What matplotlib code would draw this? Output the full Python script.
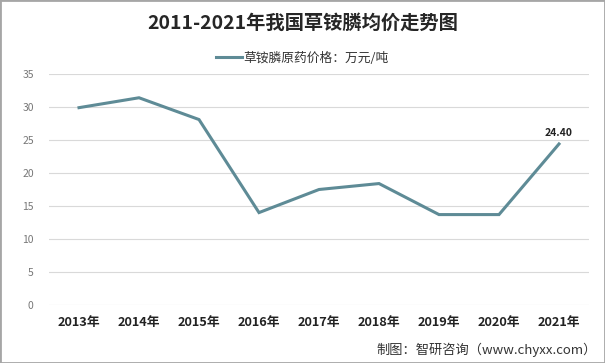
import matplotlib.pyplot as plt
from matplotlib.patches import Rectangle

plt.rcParams['font.family'] = ['Noto Sans CJK SC', 'DejaVu Sans']

years = ['2013年', '2014年', '2015年', '2016年', '2017年',
         '2018年', '2019年', '2020年', '2021年']
price = [29.9, 31.4, 28.1, 14.0, 17.5, 18.4, 13.7, 13.7, 24.4]
yticks = [0, 5, 10, 15, 20, 25, 30, 35]

line_color = '#5e8b96'

fig = plt.figure(figsize=(6.05, 3.63), dpi=100)
ax = fig.add_axes([49 / 605, 1 - 305 / 363, 540 / 605, 231 / 363])

x = list(range(len(years)))
ax.plot(x, price, color=line_color, linewidth=2.2, solid_joinstyle='miter',
        label='草铵膦原药价格：万元/吨')
ax.annotate(f'{price[-1]:.2f}', (x[-1], price[-1]), xytext=(0, 4),
            textcoords='offset points', ha='center', va='bottom',
            fontsize=7.5, fontweight='bold', color='#222222')

ax.set_xlim(-0.5, len(years) - 0.5)
ax.set_ylim(0, 35)
ax.set_yticks(yticks)
ax.set_xticks(x)
ax.set_xticklabels(years, fontsize=9.2, fontweight='bold', color='#222222')
ax.tick_params(axis='y', labelsize=7.5, labelcolor='#777777', length=0, pad=11)
ax.tick_params(axis='x', length=0, pad=8)
ax.grid(axis='y', color='#d9d9d9', linewidth=0.8)
ax.set_axisbelow(True)
for s in ax.spines.values():
    s.set_visible(False)

fig.text(0.5, 1 - 23 / 363, '2011-2021年我国草铵膦均价走势图', ha='center',
         va='center', fontsize=13.9, fontweight='bold', color='#262626')
fig.legend(loc='center', bbox_to_anchor=(0.5, 1 - 58 / 363),
           frameon=False, fontsize=9.2, handlelength=2.0, handletextpad=0.1,
           labelcolor='#333333')
fig.text(1 - 8 / 605, 1 - 350 / 363, '制图：智研咨询（www.chyxx.com）',
         ha='right', va='center', fontsize=9.5, color='#333333')

fig.patches.append(Rectangle((0, 0), 1, 1, transform=fig.transFigure,
                             fill=False, edgecolor='#a6a6a6', linewidth=2))

fig.savefig('out.png', dpi=100)
